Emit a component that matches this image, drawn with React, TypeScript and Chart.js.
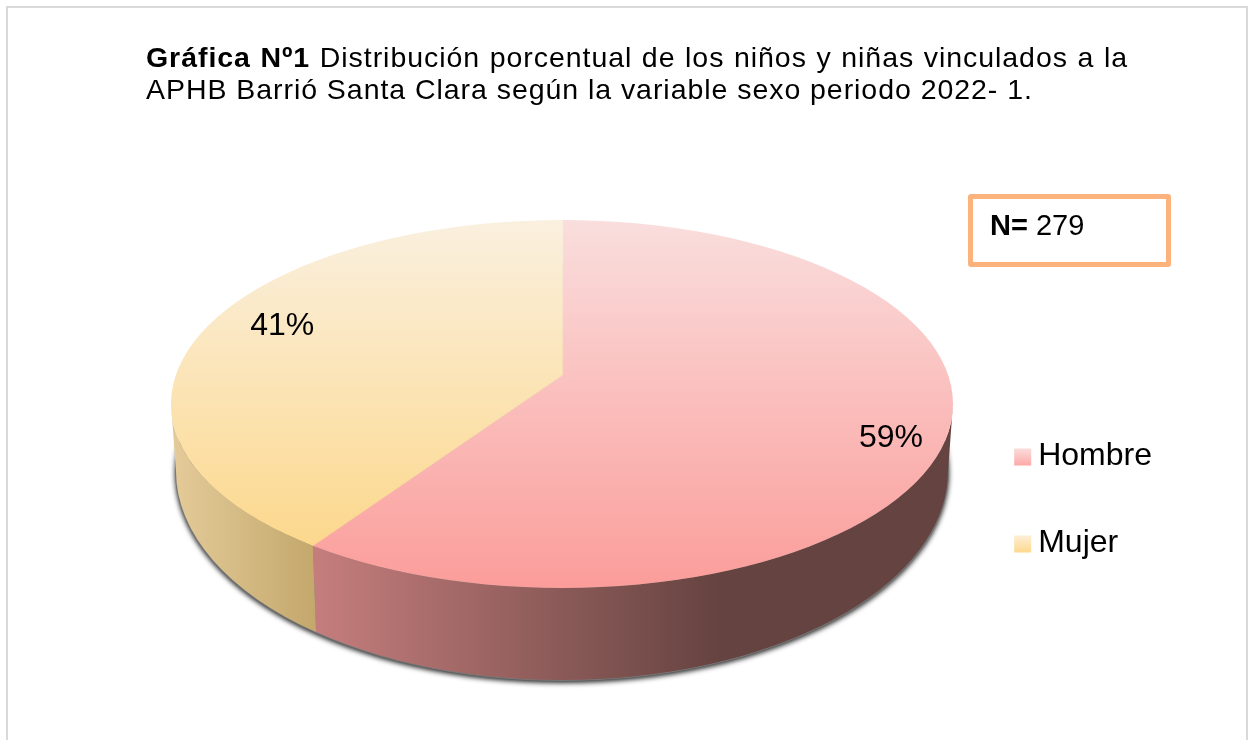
import React, { useEffect, useRef } from "react";
import { Chart, registerables } from "chart.js";

Chart.register(...registerables);

const categories = ["Hombre", "Mujer"];
const seriesValues = [59, 41];
const sampleSize = "279";

const FONT = '"Liberation Sans", Arial, sans-serif';
const SQUASH = 0.434;
const TOP_FACE = { x: 562, y: 404, a: 391, b: 184 };
const BASE = { x: 562, y: 471, a: 386, b: 209 };
const faceGradients = [
  { from: 220, to: 588, stops: ["#f9dedd", "#fb9d9a"] },
  { from: 220, to: 546, stops: ["#faf0df", "#fcd88d"] },
];
const wallGradients = [
  { from: 318, to: 720, stops: ["#c47d7c", "#654340"] },
  { from: 175, to: 318, stops: ["#e3ca98", "#c3a76b"] },
];
const swatchStops = [
  ["#fbdcdc", "#fca9a8"],
  ["#fdeed6", "#fdd98f"],
];
const labelRadius = [342, 292];
const labelShift = [22, -13];

function rimParam(cx: number, cy: number, phi: number) {
  const dx = Math.cos(phi);
  const dy = SQUASH * Math.sin(phi);
  const ox = cx - TOP_FACE.x;
  const oy = cy - TOP_FACE.y;
  const A = (dx * dx) / (TOP_FACE.a * TOP_FACE.a) + (dy * dy) / (TOP_FACE.b * TOP_FACE.b);
  const B = (2 * ox * dx) / (TOP_FACE.a * TOP_FACE.a) + (2 * oy * dy) / (TOP_FACE.b * TOP_FACE.b);
  const C = (ox * ox) / (TOP_FACE.a * TOP_FACE.a) + (oy * oy) / (TOP_FACE.b * TOP_FACE.b) - 1;
  const t = (-B + Math.sqrt(B * B - 4 * A * C)) / (2 * A);
  let theta = Math.atan2((oy + t * dy) / TOP_FACE.b, (ox + t * dx) / TOP_FACE.a);
  if (phi > Math.PI && theta < 0) theta += Math.PI * 2;
  return theta;
}

const pie3d = {
  id: "pie3d",
  beforeDatasetsDraw(chart: any) {
    const { ctx } = chart;
    const arcs = chart.getDatasetMeta(0).data;
    const cx = arcs[0].x;
    const cy = arcs[0].y;

    ctx.save();
    ctx.shadowColor = "rgba(0,0,0,0.85)";
    ctx.shadowBlur = 5;
    ctx.shadowOffsetY = 2;
    ctx.fillStyle = "#777";
    ctx.beginPath();
    ctx.ellipse(BASE.x, BASE.y, BASE.a + 1, BASE.b + 1, 0, 0, Math.PI * 2);
    ctx.fill();
    ctx.restore();

    arcs.forEach((arc: any, i: number) => {
      const t1 = Math.max(rimParam(cx, cy, arc.startAngle), 0);
      const t2 = Math.min(rimParam(cx, cy, arc.endAngle), Math.PI);
      const w = wallGradients[i];
      const g = ctx.createLinearGradient(w.from, 0, w.to, 0);
      g.addColorStop(0, w.stops[0]);
      g.addColorStop(1, w.stops[1]);
      ctx.fillStyle = g;
      ctx.beginPath();
      ctx.ellipse(TOP_FACE.x, TOP_FACE.y, TOP_FACE.a, TOP_FACE.b, 0, t1, t2);
      ctx.ellipse(BASE.x, BASE.y, BASE.a, BASE.b, 0, t2, t1, true);
      ctx.closePath();
      ctx.fill();
    });

    ctx.save();
    ctx.beginPath();
    ctx.ellipse(TOP_FACE.x, TOP_FACE.y, TOP_FACE.a, TOP_FACE.b, 0, 0, Math.PI * 2);
    ctx.clip();
    ctx.translate(cx, cy);
    ctx.scale(1, SQUASH);
    ctx.translate(-cx, -cy);
  },
  afterDatasetsDraw(chart: any) {
    const { ctx } = chart;
    ctx.restore();
    const arcs = chart.getDatasetMeta(0).data;
    ctx.save();
    ctx.fillStyle = "#000";
    ctx.font = `32px ${FONT}`;
    ctx.textAlign = "center";
    ctx.textBaseline = "middle";
    arcs.forEach((arc: any, i: number) => {
      const mid = (arc.startAngle + arc.endAngle) / 2;
      const x = arc.x + labelRadius[i] * Math.cos(mid);
      const y = arc.y + SQUASH * labelRadius[i] * Math.sin(mid) + labelShift[i];
      ctx.fillText(`${seriesValues[i]}%`, x, y);
    });
    ctx.restore();
  },
  afterDraw(chart: any) {
    const { ctx } = chart;
    const boxes = chart.legend.legendHitBoxes;
    boxes.forEach((b: any, i: number) => {
      const right = b.left + 17 - 7;
      const mid = b.top + b.height / 2 + 1;
      const g = ctx.createLinearGradient(0, mid - 8.5, 0, mid + 8.5);
      g.addColorStop(0, swatchStops[i][0]);
      g.addColorStop(1, swatchStops[i][1]);
      ctx.fillStyle = g;
      ctx.fillRect(right - 17, mid - 8.5, 17, 17);
    });
  },
};

export default function App() {
  const ref = useRef<HTMLCanvasElement>(null);
  useEffect(() => {
    const faceFill = (c: any) => {
      const chart = c.chart;
      const arc = chart.getDatasetMeta(0).data[c.dataIndex];
      const cy = arc && arc.y ? arc.y : 375;
      const f = faceGradients[c.dataIndex];
      const g = chart.ctx.createLinearGradient(0, cy + (f.from - cy) / SQUASH, 0, cy + (f.to - cy) / SQUASH);
      g.addColorStop(0, f.stops[0]);
      g.addColorStop(1, f.stops[1]);
      return g;
    };
    const chart = new Chart(ref.current as HTMLCanvasElement, {
      type: "pie",
      data: {
        labels: categories,
        datasets: [
          {
            data: seriesValues,
            backgroundColor: faceFill,
            borderColor: faceFill,
            borderWidth: 1,
            clip: false,
          } as any,
        ],
      },
      options: {
        responsive: false,
        animation: false,
        radius: 520,
        layout: { padding: { left: 159, right: 91, top: 136, bottom: 126 } },
        plugins: {
          tooltip: { enabled: false },
          title: { display: false },
          legend: {
            display: true,
            position: "right",
            align: "end",
            fullSize: false,
            labels: {
              boxWidth: 1,
              boxHeight: 1,
              padding: 55,
              color: "#000",
              font: { family: FONT, size: 32 },
              generateLabels: () =>
                categories.map((text, i) => ({
                  text,
                  index: i,
                  fillStyle: "rgba(0,0,0,0)",
                  strokeStyle: "rgba(0,0,0,0)",
                  lineWidth: 0,
                  hidden: false,
                })),
            },
          },
        },
      } as any,
      plugins: [pie3d],
    });
    return () => chart.destroy();
  }, []);

  return (
    <div style={{ position: "fixed", left: 0, top: 0, width: 1253, height: 740, overflow: "hidden", background: "#fff", fontFamily: FONT, color: "#000" }}>
      <canvas ref={ref} width={1253} height={740} style={{ position: "absolute", left: 0, top: 0, width: 1253, height: 740 }} />
      <div style={{ position: "absolute", left: 6, top: 6, width: 1238, height: 760, border: "2px solid #d9d9d9", boxSizing: "content-box" }} />
      <div style={{ position: "absolute", left: 146, top: 41, width: 982, fontSize: 28.5, letterSpacing: 0.95, lineHeight: "32px", textAlign: "justify", textAlignLast: "justify", whiteSpace: "normal" }}>
        <b>Gráfica Nº1</b> Distribución porcentual de los niños y niñas vinculados a la
      </div>
      <div style={{ position: "absolute", left: 146, top: 73, fontSize: 28.5, letterSpacing: 0.95, lineHeight: "32px", whiteSpace: "nowrap" }}>
        APHB Barrió Santa Clara según la variable sexo periodo 2022- 1.
      </div>
      <div style={{ position: "absolute", left: 968, top: 194, width: 203, height: 73, boxSizing: "border-box", border: "5px solid #fbb27c", borderRadius: 3 }} />
      <div style={{ position: "absolute", left: 990, top: 208, fontSize: 29, lineHeight: "34px", whiteSpace: "nowrap" }}>
        <b>N=</b> {sampleSize}
      </div>
    </div>
  );
}
